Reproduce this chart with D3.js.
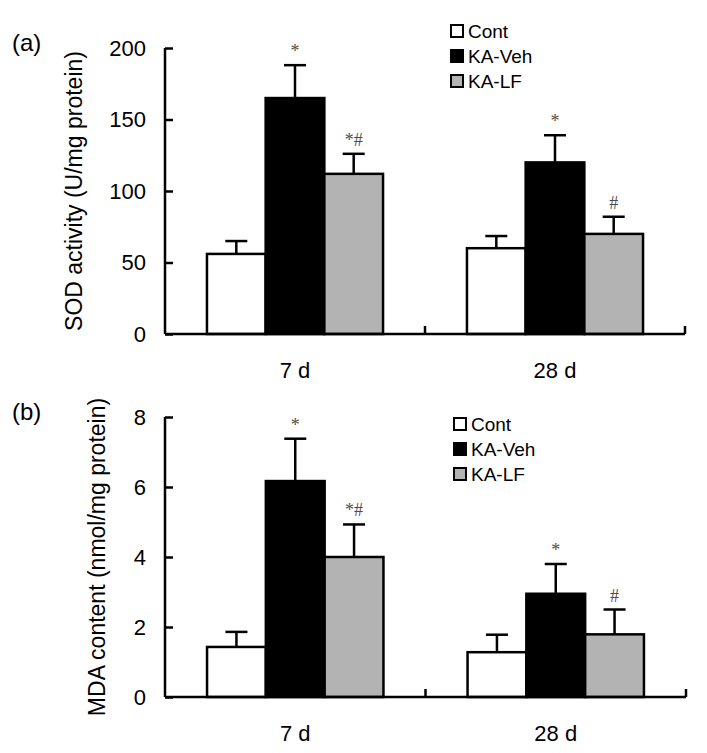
<!DOCTYPE html>
<html>
<head>
<meta charset="utf-8">
<script src="https://cdn.jsdelivr.net/npm/d3@7"></script>
<style>
  html, body { margin: 0; padding: 0; background: #fff; }
  svg { display: block; }
  text { font-family: "Liberation Sans", Arial, sans-serif; }
</style>
</head>
<body>
<script>
// ---- data ----
const categories = ["7 d", "28 d"];
const groups = ["Cont", "KA-Veh", "KA-LF"];

const sodCont = [56, 60];
const sodVeh  = [165, 120];
const sodLF   = [112, 70];
const sodContErr = [9, 8.5];
const sodVehErr  = [23, 19];
const sodLFErr   = [14, 12];
const sodSig = [["", "*", "*#"], ["", "*", "#"]];
const sodTicks = [0, 50, 100, 150, 200];

const mdaCont = [1.43, 1.28];
const mdaVeh  = [6.17, 2.95];
const mdaLF   = [4.0, 1.79];
const mdaContErr = [0.43, 0.5];
const mdaVehErr  = [1.21, 0.85];
const mdaLFErr   = [0.93, 0.71];
const mdaSig = [["", "*", "*#"], ["", "*", "#"]];
const mdaTicks = [0, 2, 4, 6, 8];

const fills = ["#ffffff", "#000000", "#b3b3b3"];

// ---- drawing ----
const W = 707, H = 753;
const svg = d3.select("body").append("svg").attr("width", W).attr("height", H);
svg.append("rect").attr("width", W).attr("height", H).attr("fill", "#fff");

function panel(opts) {
  const g = svg.append("g");
  const x = d3.scaleBand().domain(categories).range([opts.x0, opts.x1]).padding(0);
  const xs = d3.scaleBand().domain(groups).range([0, x.bandwidth()]).paddingInner(0).paddingOuter(0.715);
  const y = d3.scaleLinear().domain(opts.domain).range([opts.yBottom, opts.yTop]);

  const means = [opts.cont, opts.veh, opts.lf];
  const errs = [opts.contErr, opts.vehErr, opts.lfErr];
  const rows = [];
  categories.forEach((c, ci) => {
    groups.forEach((gname, gi) => {
      rows.push({c, ci, gname, gi, v: means[gi][ci], e: errs[gi][ci], sig: opts.sig[ci][gi]});
    });
  });

  // error bars (behind bars)
  const eb = g.append("g").attr("stroke", "#000").attr("stroke-width", 2.5);
  rows.forEach(d => {
    const cx = x(d.c) + xs(d.gname) + xs.bandwidth() / 2;
    eb.append("line").attr("x1", cx).attr("x2", cx).attr("y1", y(d.v)).attr("y2", y(d.v + d.e));
    eb.append("line").attr("x1", cx - 11).attr("x2", cx + 11).attr("y1", y(d.v + d.e)).attr("y2", y(d.v + d.e));
  });

  // bars
  g.append("g").selectAll("rect").data(rows).join("rect")
    .attr("x", d => x(d.c) + xs(d.gname))
    .attr("width", xs.bandwidth())
    .attr("y", d => y(d.v))
    .attr("height", d => y(0) - y(d.v))
    .attr("fill", d => fills[d.gi])
    .attr("stroke", "#000")
    .attr("stroke-width", 2.5);

  // significance marks
  g.append("g").selectAll("text").data(rows.filter(d => d.sig)).join("text")
    .attr("x", d => x(d.c) + xs(d.gname) + xs.bandwidth() / 2)
    .attr("y", d => y(d.v + d.e) - 8)
    .attr("text-anchor", "middle")
    .style("font-family", "'Liberation Serif', 'Times New Roman', serif")
    .style("font-size", "18px")
    .attr("fill", "#4d4d4d")
    .text(d => d.sig);

  // y axis
  const ya = g.append("g").attr("transform", `translate(${opts.x0},0)`)
    .call(d3.axisLeft(y).tickValues(opts.ticks).tickSize(-8).tickSizeOuter(0).tickPadding(19));
  ya.select(".domain").attr("stroke-width", 2.5).attr("d", `M0,${opts.yTop}V${opts.yBottom}`);
  ya.selectAll(".tick line").attr("stroke-width", 2.5);
  ya.selectAll(".tick text").style("font-size", "22px").style("font-family", "'Liberation Sans', Arial, sans-serif").attr("fill", "#000");

  // x axis
  const xa = g.append("g").attr("transform", `translate(0,${opts.yBottom})`)
    .call(d3.axisBottom(x).tickSize(0).tickPadding(28));
  xa.select(".domain").attr("stroke-width", 2.5).attr("d", `M${opts.x0},0H${opts.x1}`);
  xa.selectAll(".tick text").style("font-size", "22px").style("font-family", "'Liberation Sans', Arial, sans-serif").attr("fill", "#000");
  xa.selectAll("line.sep").data(categories).join("line").attr("class", "sep")
    .attr("x1", c => x(c) + x.bandwidth()).attr("x2", c => x(c) + x.bandwidth())
    .attr("y1", 0).attr("y2", -8)
    .attr("stroke", "#000").attr("stroke-width", 2.5);

  // y label
  g.append("text")
    .attr("transform", `translate(${opts.labelX},${(opts.yTop + opts.yBottom) / 2}) rotate(-90)`)
    .attr("text-anchor", "middle")
    .attr("dy", "0.35em")
    .style("font-size", "23px")
    .text(opts.label);

  // panel letter
  g.append("text").attr("x", 12).attr("y", opts.letterY).style("font-size", "24px").text(opts.letter);

  // legend
  const lg = g.append("g").attr("transform", `translate(${opts.legX},${opts.legY})`);
  groups.forEach((gname, i) => {
    const row = lg.append("g").attr("transform", `translate(0,${i * 25})`);
    row.append("rect").attr("x", 1).attr("y", -6).attr("width", 12).attr("height", 12)
      .attr("fill", fills[i]).attr("stroke", "#000").attr("stroke-width", 2);
    row.append("text").attr("x", 18).attr("y", 0).attr("dy", "0.36em")
      .style("font-size", "19px").text(gname);
  });
}

panel({
  x0: 165, x1: 685, yTop: 48, yBottom: 334, domain: [0, 200], ticks: sodTicks,
  cont: sodCont, veh: sodVeh, lf: sodLF,
  contErr: sodContErr, vehErr: sodVehErr, lfErr: sodLFErr, sig: sodSig,
  label: "SOD activity (U/mg protein)", labelX: 74,
  letter: "(a)", letterY: 51, legX: 450, legY: 31
});

panel({
  x0: 165, x1: 686, yTop: 417, yBottom: 697, domain: [0, 8], ticks: mdaTicks,
  cont: mdaCont, veh: mdaVeh, lf: mdaLF,
  contErr: mdaContErr, vehErr: mdaVehErr, lfErr: mdaLFErr, sig: mdaSig,
  label: "MDA content (nmol/mg protein)", labelX: 97,
  letter: "(b)", letterY: 420, legX: 453, legY: 424
});
</script>
</body>
</html>
